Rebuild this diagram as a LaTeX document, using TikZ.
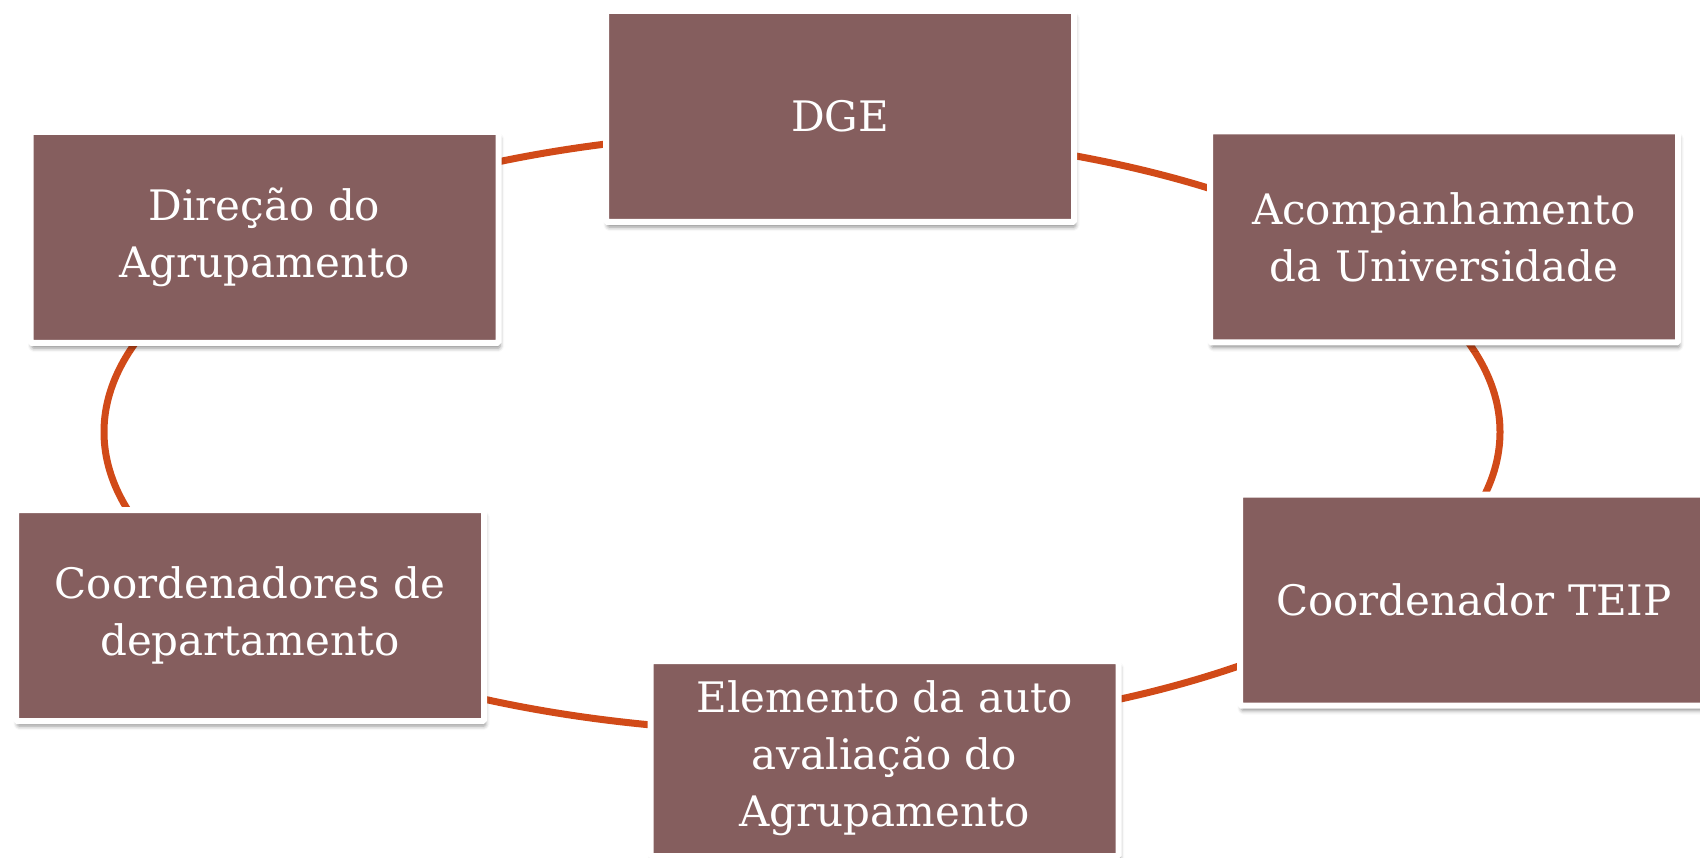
\documentclass[tikz,border=0pt]{standalone}
\usepackage{fontspec}
\setmainfont{DejaVu Serif}
\usetikzlibrary{shadows.blur}
\definecolor{boxfill}{RGB}{133,94,94}
\definecolor{ringcol}{RGB}{209,74,24}
\tikzset{
  box/.style={rectangle, fill=boxfill, draw=white, line width=6pt,
    rounded corners=1.5pt, text=white, align=center,
    minimum width=468pt, minimum height=211pt, inner sep=0pt,
    font=\fontsize{42}{57}\selectfont,
    blur shadow={shadow xshift=1.5pt, shadow yshift=-5pt, shadow blur radius=4pt, shadow opacity=45}},
  ring/.style={draw=ringcol, line width=7pt}
}
\begin{document}
\begin{tikzpicture}[x=1pt,y=-1pt]
\useasboundingbox (0,0) rectangle (1700,858);
\coordinate (ringc) at (802,432);
\draw[ring] (ringc) ellipse [x radius=698pt, y radius=300pt];
\node[box] (dge) at (840,116.5) {DGE};
\node[box] (dir) at (264.5,237.5) {Direção do\\Agrupamento};
\node[box] (aco) at (1444,237) {Acompanhamento\\da Universidade};
\node[box] (teip) at (1474,600) {Coordenador TEIP};
\node[box, minimum height=195pt] (ele) at (884.5,758.5) {Elemento da auto\\avaliação do\\Agrupamento};
\node[box] (coo) at (250,615.5) {Coordenadores de\\departamento};
\end{tikzpicture}
\end{document}
